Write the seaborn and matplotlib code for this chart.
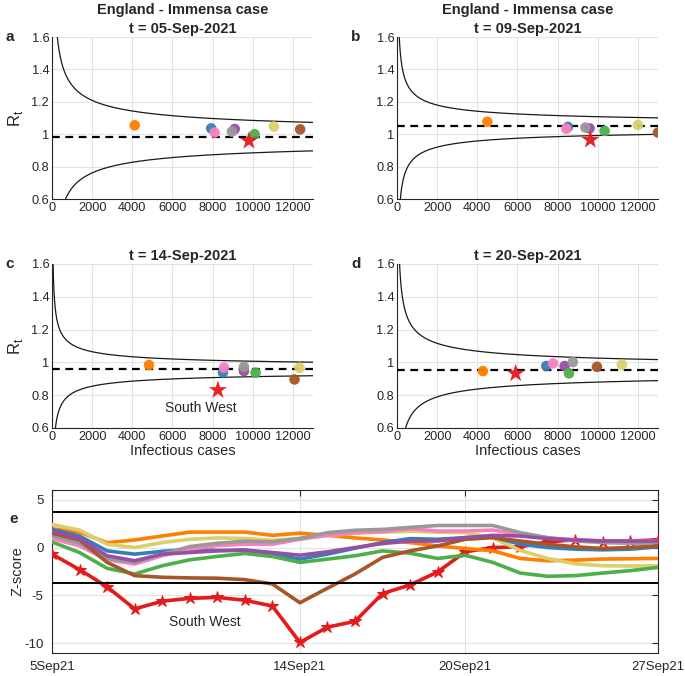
import numpy as np
import pandas as pd
import matplotlib
matplotlib.use("Agg")
import matplotlib.pyplot as plt
import seaborn as sns

sns.set_style("white")
plt.rcParams["font.family"] = ["Liberation Sans", "DejaVu Sans"]
plt.rcParams["axes.unicode_minus"] = False

# ---------------- data ----------------
regions = ["South West", "London", "North East", "South East", "East of England",
           "West Midlands", "North West", "East Midlands", "Yorkshire and Humber"]
colors = ["#e41a1c", "#ff7f00", "#dccf6a", "#377eb8", "#984ea3",
          "#999999", "#f781bf", "#4daf4a", "#a65628"]

panel_dates = ["05-Sep-2021", "09-Sep-2021", "14-Sep-2021", "20-Sep-2021"]

# infectious cases per region (order as regions)
cases_a = [9810, 4120, 11050, 7930, 9100, 8960, 8100, 10090, 12360]
rt_a = [0.959, 1.055, 1.047, 1.036, 1.032, 1.016, 1.010, 1.000, 1.030]
cases_b = [9630, 4500, 12000, 8515, 9590, 9380, 8430, 10340, 13000]
rt_b = [0.965, 1.077, 1.057, 1.045, 1.036, 1.041, 1.034, 1.020, 1.010]
cases_c = [8265, 4830, 12330, 8515, 9560, 9560, 8565, 10140, 12080]
rt_c = [0.831, 0.984, 0.967, 0.939, 0.947, 0.973, 0.969, 0.937, 0.896]
cases_d = [5910, 4280, 11200, 7435, 8350, 8760, 7770, 8565, 9960]
rt_d = [0.933, 0.947, 0.986, 0.978, 0.978, 1.002, 0.994, 0.933, 0.973]

# national Rt (dashed line) and funnel spread per panel
rt_england = [0.985, 1.05, 0.96, 0.953]
funnel_spread = [10.0, 5.8, 4.7, 7.3]

# z-scores 5 Sep - 27 Sep 2021
z_dates = pd.date_range("2021-09-05", "2021-09-27", freq="D")
z_south_west = [-0.69, -2.3, -4.1, -6.4, -5.6, -5.3, -5.2, -5.5, -6.1, -9.9, -8.3, -7.7,
                -4.8, -3.9, -2.55, -0.45, 0.0, 0.07, 0.6, 0.8, 0.6, 0.68, 0.8]
z_london = [1.96, 1.61, 0.5, 0.79, 1.2, 1.61, 1.61, 1.61, 1.27, 1.5, 1.27, 1.0,
            0.79, 0.52, 0.17, -0.1, -0.34, -1.14, -1.38, -1.31, -1.2, -1.17, -1.14]
z_north_east = [2.41, 1.82, 0.34, 0.0, 0.52, 0.86, 1.0, 0.95, 0.75, 0.95, 1.25, 1.5,
                1.6, 1.7, 1.6, 1.55, 1.0, -0.3, -1.15, -1.7, -1.9, -1.93, -1.9]
z_south_east = [1.89, 1.2, -0.35, -0.69, -0.4, -0.2, -0.3, -0.3, -0.69, -1.21, -0.69, -0.07,
                0.52, 0.93, 0.86, 1.03, 1.1, 0.35, 0.0, -0.17, -0.24, -0.17, 0.07]
z_east = [1.72, 0.93, -0.86, -1.38, -0.69, -0.52, -0.35, -0.25, -0.52, -0.8, -0.45, 0.0,
          0.41, 0.68, 0.68, 1.03, 1.27, 1.2, 0.93, 0.79, 0.68, 0.68, 0.68]
z_west_mid = [1.27, 0.44, -1.14, -1.55, -0.69, 0.1, 0.45, 0.65, 0.6, 0.95, 1.55, 1.8,
              1.89, 2.1, 2.3, 2.3, 2.3, 1.55, 1.03, 0.68, 0.52, 0.44, 0.5]
z_north_west = [0.93, 0.17, -1.28, -1.72, -0.86, -0.17, 0.2, 0.34, 0.34, 0.86, 1.27, 1.55,
                1.65, 1.96, 1.72, 1.72, 1.82, 1.38, 1.0, 0.8, 0.7, 0.7, 0.7]
z_east_mid = [0.58, -0.52, -2.17, -2.76, -1.9, -1.28, -0.93, -0.62, -0.93, -1.55, -1.21, -0.86,
              -0.35, -0.59, -1.14, -0.8, -1.55, -2.66, -3.0, -2.93, -2.66, -2.41, -2.07]
z_yorkshire = [1.5, 0.8, -1.55, -2.93, -3.1, -3.17, -3.2, -3.35, -3.8, -5.76, -4.24, -2.76,
               -1.03, -0.35, 0.17, 0.86, 1.03, 0.68, 0.34, 0.07, -0.1, 0.0, 0.17]
z_threshold = 3.7

z_series = [z_south_west, z_london, z_north_east, z_south_east, z_east,
            z_west_mid, z_north_west, z_east_mid, z_yorkshire]

xtick_dates = ["2021-09-05", "2021-09-14", "2021-09-20", "2021-09-27"]
xtick_labels = ["5Sep21", "14Sep21", "20Sep21", "27Sep21"]

# ---------------- figure ----------------
W, H = 685, 676
fig = plt.figure(figsize=(W / 100, H / 100), dpi=100)


def box(l, t, r, b):
    return [l / W, 1 - b / H, (r - l) / W, (b - t) / H]


pal = dict(zip(regions, colors))
axes_pos = [box(52, 37, 313, 199), box(397, 37, 658, 199),
            box(52, 264, 313, 428), box(397, 264, 658, 428)]
cases_all = [cases_a, cases_b, cases_c, cases_d]
rt_all = [rt_a, rt_b, rt_c, rt_d]
letters = ["a", "b", "c", "d"]

for i in range(4):
    ax = fig.add_axes(axes_pos[i])
    df = pd.DataFrame({"region": regions, "cases": cases_all[i], "rt": rt_all[i]})
    n = np.linspace(1, 13000, 4000)
    ax.plot(n, rt_england[i] + funnel_spread[i] / np.sqrt(n), color="#1a1a1a", lw=0.9, zorder=2)
    ax.plot(n, rt_england[i] - funnel_spread[i] / np.sqrt(n), color="#1a1a1a", lw=0.9, zorder=2)
    ax.axhline(rt_england[i], color="black", lw=1.6, ls=(0, (3.5, 2.5)), zorder=3)
    others = df[df.region != "South West"]
    sns.scatterplot(data=others, x="cases", y="rt", hue="region", palette=pal,
                    s=58, edgecolor="none", alpha=0.95, legend=False, ax=ax, zorder=4)
    sns.scatterplot(data=df[df.region == "South West"], x="cases", y="rt", color=colors[0],
                    marker="*", s=190, edgecolor="none", alpha=0.95, legend=False, ax=ax, zorder=5)
    ax.set_xlim(0, 13000)
    ax.set_ylim(0.6, 1.6)
    ax.set_xticks(range(0, 13000, 2000))
    ax.set_yticks([0.6, 0.8, 1.0, 1.2, 1.4, 1.6])
    ax.set_yticklabels(["0.6", "0.8", "1", "1.2", "1.4", "1.6"])
    ax.grid(True, color="#e3e3e3", lw=0.8)
    ax.set_axisbelow(True)
    for s in ["top", "right"]:
        ax.spines[s].set_visible(False)
    for s in ["left", "bottom"]:
        ax.spines[s].set_color("#262626")
        ax.spines[s].set_linewidth(0.8)
    ax.tick_params(direction="in", length=3, labelsize=9.2, colors="#262626", pad=2)
    ax.set_xlabel("Infectious cases" if i >= 2 else "", fontsize=10.5, labelpad=1)
    if i in (0, 2):
        ax.set_ylabel(r"R$_\mathregular{t}$", fontsize=12, labelpad=5)
    else:
        ax.set_ylabel("")
    if i < 2:
        title = "England - Immensa case\nt = " + panel_dates[i]
    else:
        title = "t = " + panel_dates[i]
    ax.set_title(title, fontsize=10.5, fontweight="bold", pad=3, linespacing=1.45)
    ax.text(-0.18 if i in (0, 2) else -0.175, 1.0, letters[i], transform=ax.transAxes,
            fontsize=11, fontweight="bold", va="center", ha="left")
    if i == 2:
        ax.text(7435, 0.722, "South West", fontsize=10, ha="center", va="center")

# ---------------- panel e ----------------
ax = fig.add_axes(box(52, 490, 658, 653))
long = pd.DataFrame({
    "date": np.tile(z_dates, len(regions)),
    "z": np.concatenate(z_series),
    "region": np.repeat(regions, len(z_dates)),
})
order = ["London", "North East", "South East", "East Midlands", "North West",
         "West Midlands", "Yorkshire and Humber", "East of England"]
sns.lineplot(data=long[long.region == "South West"], x="date", y="z", color=colors[0],
             marker="*", markersize=9, markeredgecolor=colors[0], lw=2.6, ax=ax,
             legend=False, zorder=3)
sns.lineplot(data=long[long.region != "South West"], x="date", y="z", hue="region",
             hue_order=order, palette=pal, lw=2.6, ax=ax, legend=False, zorder=4)
ax.axhline(z_threshold, color="black", lw=1.4, zorder=5)
ax.axhline(-z_threshold, color="black", lw=1.4, zorder=5)
ax.set_xlim(z_dates[0], z_dates[-1])
ax.set_ylim(-11, 6)
ax.set_yticks([-10, -5, 0, 5])
ax.set_xticks(pd.to_datetime(xtick_dates))
ax.set_xticklabels(xtick_labels)
ax.grid(True, color="#e3e3e3", lw=0.8)
ax.set_axisbelow(True)
for s in ax.spines.values():
    s.set_color("#262626")
    s.set_linewidth(0.8)
ax.tick_params(direction="in", length=4, labelsize=9.5, colors="#262626",
               top=True, right=True, pad=6)
ax.set_xlabel("")
ax.set_ylabel("Z-score", fontsize=10.5, labelpad=0)
ax.text(z_dates[0] + pd.Timedelta(days=5.54), -7.8, "South West", fontsize=10,
        ha="center", va="center")
ax.text(-0.07, 0.82, "e", transform=ax.transAxes, fontsize=11, fontweight="bold",
        va="center", ha="left")

fig.savefig("out.png", dpi=100)
